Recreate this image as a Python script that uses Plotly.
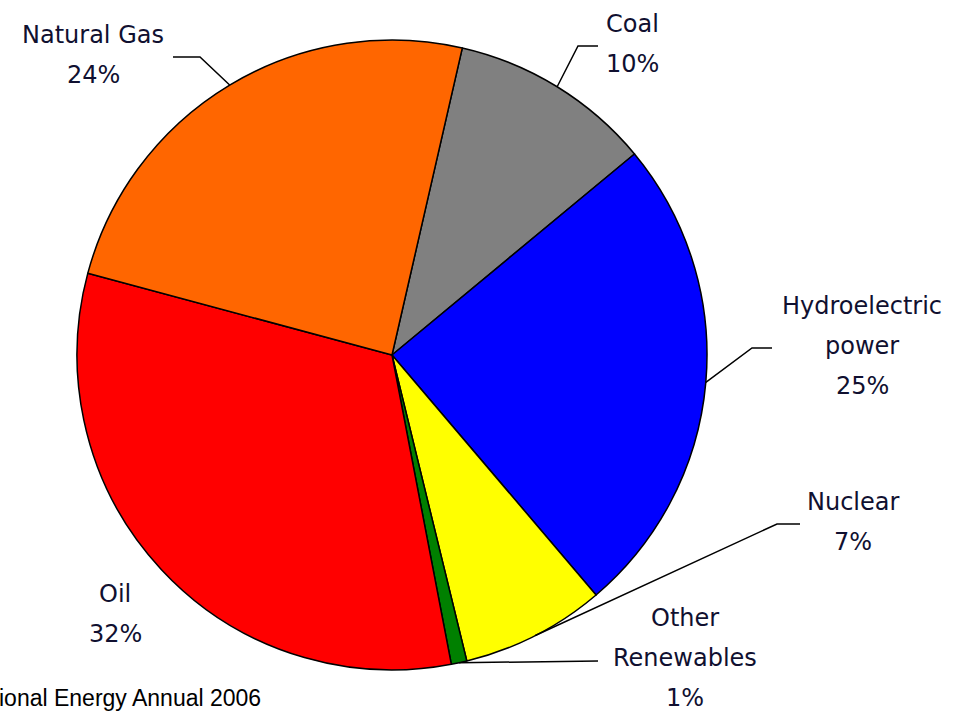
import math
import plotly.graph_objects as go

# ---- data ----
labels = ["Coal", "Hydroelectric power", "Nuclear", "Other Renewables", "Oil", "Natural Gas"]
label_lines = [["Coal"], ["Hydroelectric", "power"], ["Nuclear"], ["Other", "Renewables"], ["Oil"], ["Natural Gas"]]
values = [10.4, 24.8, 7.4, 0.8, 32.2, 24.4]
colors = ["#808080", "#0000FF", "#FFFF00", "#008000", "#FF0000", "#FF6600"]
footnote = "ional Energy Annual 2006"

# ---- layout constants (pixels) ----
W, H = 957, 713
CX, CY, R = 392, 355, 315
ROTATION = 12.9
# label centre x, first-line y
label_pos = [(632, 24), (862, 306), (853, 502), (685, 618), (115, 594), (93, 35)]
LINE_GAP = 40
# leader elbows / ends (None => no leader)
leaders = [
    [(578, 46), (598, 46)],
    [(752, 348), (772, 348)],
    [(777, 524), (800, 524)],
    [(598, 661)],
    None,
    [(200, 57), (173, 57)],
]

def px(x):
    return x / W

def py(y):
    return 1 - y / H

fig = go.Figure()
fig.add_trace(go.Pie(
    labels=labels, values=values, sort=False, direction="clockwise",
    rotation=ROTATION,
    marker=dict(colors=colors, line=dict(color="black", width=1.5)),
    textinfo="none", hoverinfo="label+percent", showlegend=False,
    domain=dict(x=[px(CX - R), px(CX + R)], y=[py(CY + R), py(CY - R)]),
))

total = sum(values)
annotations = []
shapes = []
cum = 0.0
font = dict(family="DejaVu Sans", size=24, color="#101030")
for i, v in enumerate(values):
    mid = ROTATION + (cum + v / 2) / total * 360
    cum += v
    pct = f"{round(v / total * 100)}%"
    lines = label_lines[i] + [pct]
    lx, ly = label_pos[i]
    for k, t in enumerate(lines):
        annotations.append(dict(x=px(lx), y=py(ly + k * LINE_GAP), xref="paper", yref="paper",
                                text=t, showarrow=False, xanchor="center", yanchor="middle",
                                font=font))
    if leaders[i]:
        a = math.radians(mid)
        sx, sy = CX + R * math.sin(a), CY - R * math.cos(a)
        pts = [(sx, sy)] + leaders[i]
        path = "M " + " L ".join(f"{px(x)},{py(y)}" for x, y in pts)
        shapes.append(dict(type="path", path=path, xref="paper", yref="paper",
                           line=dict(color="black", width=1.5)))

annotations.append(dict(x=px(-3), y=py(698), xref="paper", yref="paper", text=footnote,
                        showarrow=False, xanchor="left", yanchor="middle",
                        font=dict(family="Liberation Sans", size=23, color="black")))

fig.update_layout(
    width=W, height=H, margin=dict(l=0, r=0, t=0, b=0),
    paper_bgcolor="white", plot_bgcolor="white",
    annotations=annotations, shapes=shapes,
)
fig.write_html("out.html", config={"displayModeBar": False},
               post_script="document.body.style.margin='0';document.body.style.overflow='hidden';")
